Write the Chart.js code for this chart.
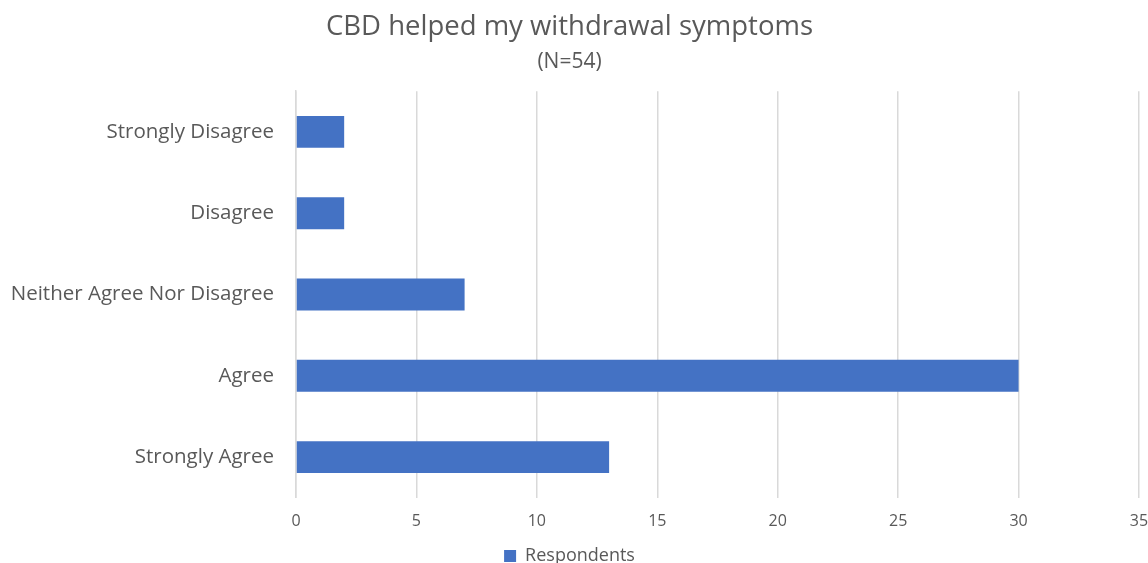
<!DOCTYPE html>
<html>
<head>
<meta charset="utf-8">
<style>
  html, body { margin: 0; padding: 0; background: #ffffff; }
  #wrap { width: 1148px; height: 563px; }
</style>
<script src="https://cdn.jsdelivr.net/npm/chart.js@4/dist/chart.umd.min.js"></script>
</head>
<body>
<div id="wrap"><canvas id="chart" width="1148" height="563"></canvas></div>
<script>
// Survey responses: "CBD helped my withdrawal symptoms"
const categories = ["Strongly Disagree", "Disagree", "Neither Agree Nor Disagree", "Agree", "Strongly Agree"];
const respondents = [2, 2, 7, 30, 13];
const seriesName = "Respondents";
const titleText = "CBD helped my withdrawal symptoms";
const subtitleText = "(N=54)";
const xMin = 0, xMax = 35, xStep = 5;

const textColor = "#595959";
const barColor = "#4472C4";
const gridColor = "#d9d9d9";
const fontFamily = "'Open Sans', 'Noto Sans', sans-serif";

new Chart(document.getElementById("chart"), {
  type: "bar",
  data: {
    labels: categories,
    datasets: [{
      label: seriesName,
      data: respondents,
      backgroundColor: barColor,
      borderWidth: 0,
      categoryPercentage: 1.0,
      barPercentage: 0.393
    }]
  },
  options: {
    indexAxis: "y",
    responsive: false,
    animation: false,
    layout: { padding: { left: 0, right: 9, top: 0, bottom: -12 } },
    plugins: {
      title: {
        display: true,
        text: titleText,
        color: textColor,
        font: { family: fontFamily, size: 27.5, weight: "normal", lineHeight: 1.2 },
        padding: { top: 11, bottom: 0 }
      },
      subtitle: {
        display: true,
        text: subtitleText,
        color: textColor,
        font: { family: fontFamily, size: 21, weight: "normal", lineHeight: 1.2 },
        padding: { top: 5, bottom: 17 }
      },
      legend: {
        display: true,
        position: "bottom",
        labels: {
          color: textColor,
          font: { family: fontFamily, size: 18 },
          boxWidth: 12,
          boxHeight: 12,
          padding: 2
        }
      },
      tooltip: { enabled: false }
    },
    scales: {
      x: {
        min: xMin,
        max: xMax,
        ticks: {
          stepSize: xStep,
          color: textColor,
          font: { family: fontFamily, size: 16 },
          padding: 14
        },
        grid: { color: gridColor, lineWidth: 1.5, drawTicks: false },
        border: { display: false },
        afterFit(scale) { scale.paddingRight = 0; scale.paddingLeft = 0; }
      },
      y: {
        ticks: {
          color: textColor,
          font: { family: fontFamily, size: 20.5 },
          padding: 22
        },
        grid: { display: false, drawTicks: false },
        border: { display: true, color: gridColor, width: 1.5 },
        afterFit(scale) { scale.width = 296; }
      }
    }
  }
});
</script>
</body>
</html>
